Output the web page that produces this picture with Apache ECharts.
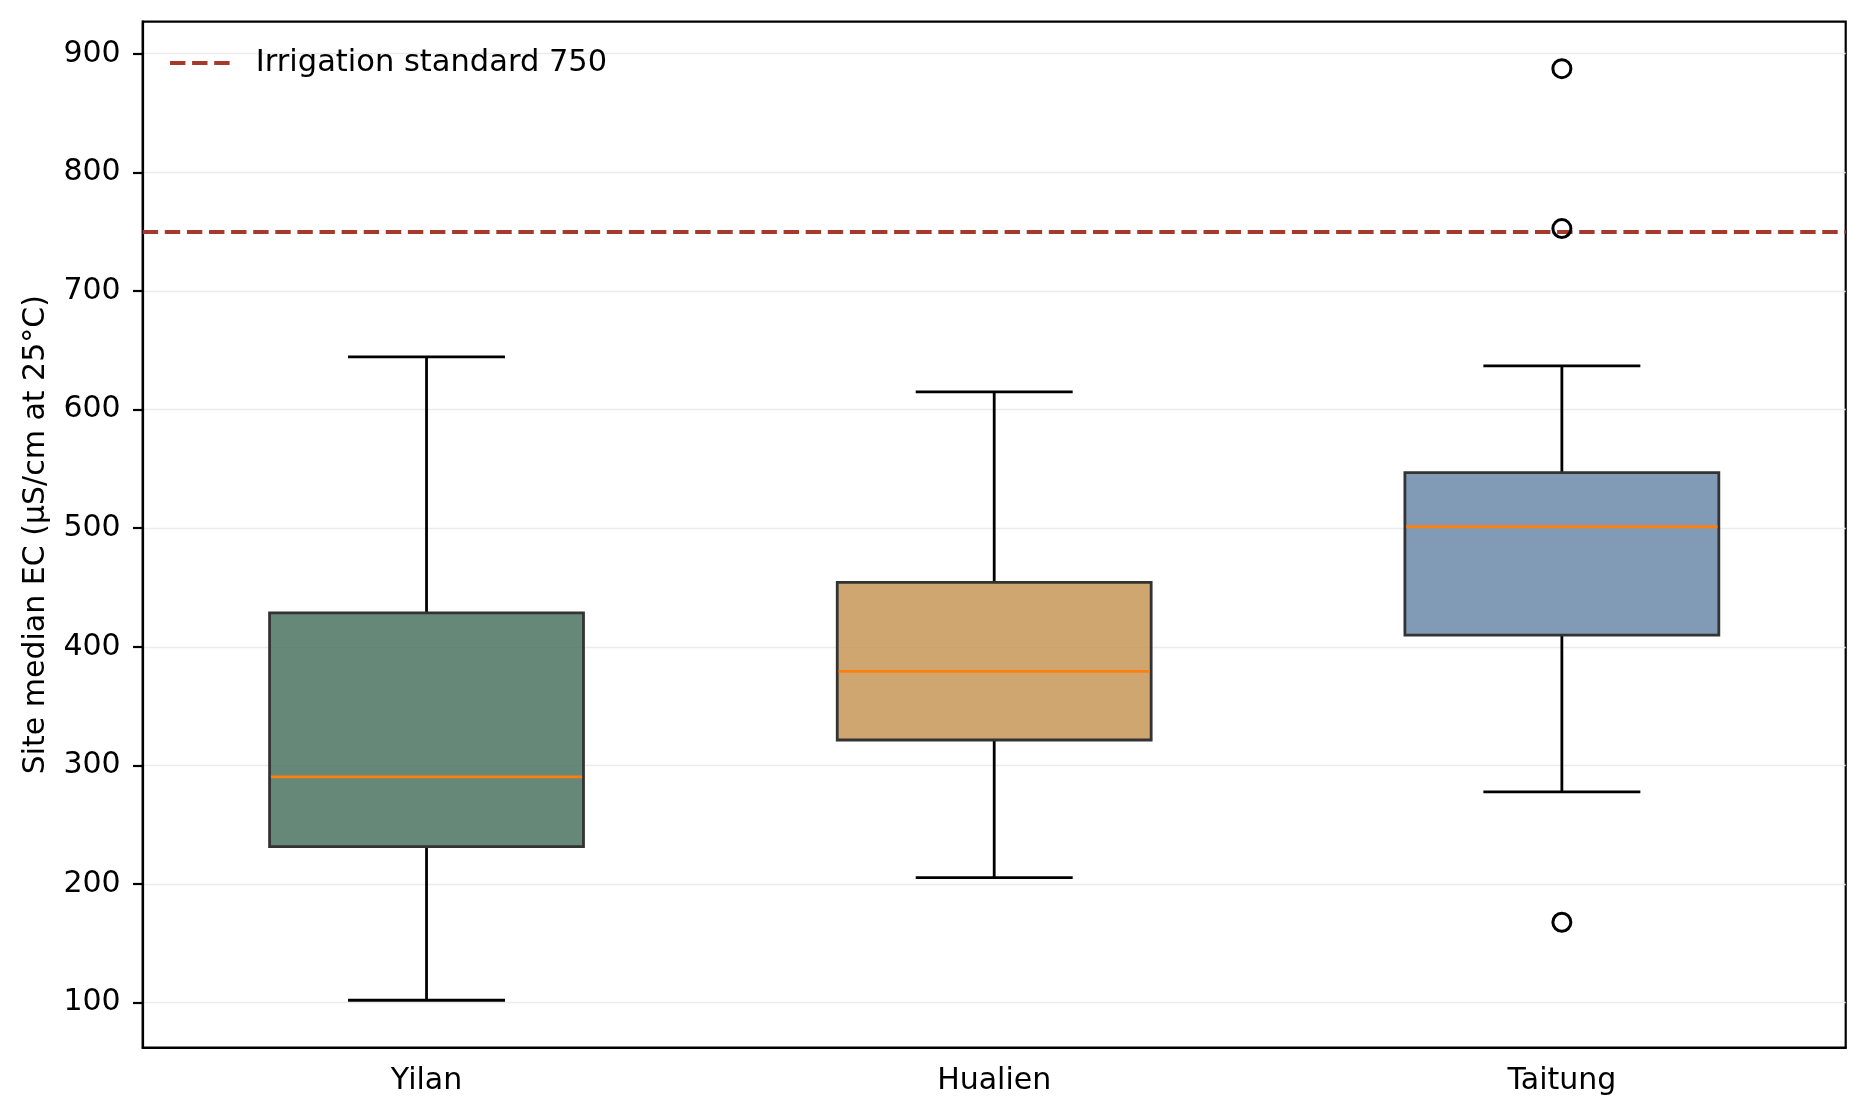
<!DOCTYPE html>
<html>
<head>
<meta charset="utf-8">
<title>Site median EC by county</title>
<script src="https://cdn.jsdelivr.net/npm/echarts@6/dist/echarts.min.js"></script>
<style>
  html, body { margin: 0; padding: 0; background: #fff; }
  #chart { width: 1868px; height: 1120px; }
</style>
</head>
<body>
<div id="chart"></div>
<script>
// categories and box statistics
var counties = ['Yilan', 'Hualien', 'Taitung'];
var whiskerLow = [102, 205.4, 277.6];
var q1 = [231.5, 321.4, 409.9];
var medians = [290.3, 379.3, 501.2];
var q3 = [428.6, 454.3, 546.9];
var whiskerHigh = [644.4, 614.9, 636.8];
// outliers: [category index, value]
var outliers = [[2, 887.4], [2, 752.6], [2, 167.8]];
var standardEC = 750;
var yTicks = [100, 200, 300, 400, 500, 600, 700, 800, 900];

var boxColors = ['rgba(74,115,96,0.85)', 'rgba(199,150,86,0.85)', 'rgba(107,137,169,0.85)'];
var FONT = 'DejaVu Sans';
var FS = 30;
var BOX_WIDTH = 0.553;

var boxData = counties.map(function (c, i) {
  return [i, whiskerLow[i], q1[i], medians[i], q3[i], whiskerHigh[i]];
});

function renderBox(params, api) {
  var x = api.value(0);
  var pLow = api.coord([x, api.value(1)]);
  var pQ1 = api.coord([x, api.value(2)]);
  var pMed = api.coord([x, api.value(3)]);
  var pQ3 = api.coord([x, api.value(4)]);
  var pHigh = api.coord([x, api.value(5)]);
  var half = api.size([1, 0])[0] * BOX_WIDTH / 2;
  var cap = half / 2;
  var cx = pLow[0];
  function ln(x1, y1, x2, y2, color) {
    return {
      type: 'line',
      shape: { x1: x1, y1: y1, x2: x2, y2: y2 },
      style: { stroke: color || '#000', lineWidth: 2.8 }
    };
  }
  return {
    type: 'group',
    children: [
      ln(cx, pQ1[1], cx, pLow[1]),
      ln(cx, pQ3[1], cx, pHigh[1]),
      ln(cx - cap, pLow[1], cx + cap, pLow[1]),
      ln(cx - cap, pHigh[1], cx + cap, pHigh[1]),
      {
        type: 'rect',
        shape: { x: cx - half, y: pQ3[1], width: half * 2, height: pQ1[1] - pQ3[1] },
        style: { fill: boxColors[params.dataIndex], stroke: '#333', lineWidth: 2.8 }
      },
      ln(cx - half + 1.4, pMed[1], cx + half - 1.4, pMed[1], '#ff7f0e')
    ]
  };
}

var chart = echarts.init(document.getElementById('chart'));
chart.setOption({
  animation: false,
  backgroundColor: '#fff',
  textStyle: { fontFamily: FONT },
  grid: {
    left: 142.7, right: 22.3, top: 21.7, bottom: 72.3,
    show: true, borderColor: '#000', borderWidth: 2.2, backgroundColor: 'transparent'
  },
  legend: {
    left: 170, top: 46, padding: 0,
    itemWidth: 60, itemHeight: 4.2,
    data: [{
      name: 'Irrigation standard 750',
      icon: 'path://M0,0h15.4v4.2h-15.4z M22.1,0h15.4v4.2h-15.4z M44.2,0h15.4v4.2h-15.4z',
      itemStyle: { color: '#a33a2b' }
    }],
    textStyle: { fontFamily: FONT, fontSize: 30.5, color: '#000', padding: [0, 0, 0, 21], lineHeight: 34 }
  },
  xAxis: {
    type: 'category',
    data: counties,
    boundaryGap: true,
    axisLine: { lineStyle: { color: '#000', width: 2.2 } },
    axisTick: { alignWithLabel: true, length: 9.7, lineStyle: { color: '#000', width: 2.2 } },
    axisLabel: { fontFamily: FONT, fontSize: FS, color: '#000', margin: 19 },
    splitLine: { show: false }
  },
  yAxis: {
    type: 'value',
    min: 62, max: 927,
    name: 'Site median EC (µS/cm at 25°C)',
    nameLocation: 'middle',
    nameGap: 91,
    nameTextStyle: { fontFamily: FONT, fontSize: FS, color: '#000' },
    axisLine: { show: true, lineStyle: { color: '#000', width: 2.2 } },
    axisTick: { show: true, length: 9.7, customValues: yTicks, lineStyle: { color: '#000', width: 2.2 } },
    axisLabel: { fontFamily: FONT, fontSize: FS, color: '#000', margin: 22, customValues: yTicks },
    splitLine: { show: true, lineStyle: { color: '#ebebeb', width: 1.4 } }
  },
  series: [
    {
      name: 'boxes',
      type: 'custom',
      renderItem: renderBox,
      encode: { x: 0, y: [1, 2, 3, 4, 5] },
      data: boxData,
      z: 2
    },
    {
      name: 'Irrigation standard 750',
      type: 'line',
      data: [],
      symbol: 'none',
      itemStyle: { color: '#a33a2b' },
      lineStyle: { color: '#a33a2b', width: 4.2, type: [15.4, 6.7] },
      markLine: {
        silent: true,
        symbol: 'none',
        label: { show: false },
        lineStyle: { color: '#a33a2b', width: 4.2, type: [15.4, 6.7] },
        data: [{ yAxis: standardEC }]
      },
      z: 3
    },
    {
      name: 'outliers',
      type: 'scatter',
      data: outliers,
      symbol: 'circle',
      symbolSize: 18,
      itemStyle: { color: 'rgba(0,0,0,0)', borderColor: '#000', borderWidth: 3, opacity: 1 },
      z: 5
    }
  ]
});
</script>
</body>
</html>
